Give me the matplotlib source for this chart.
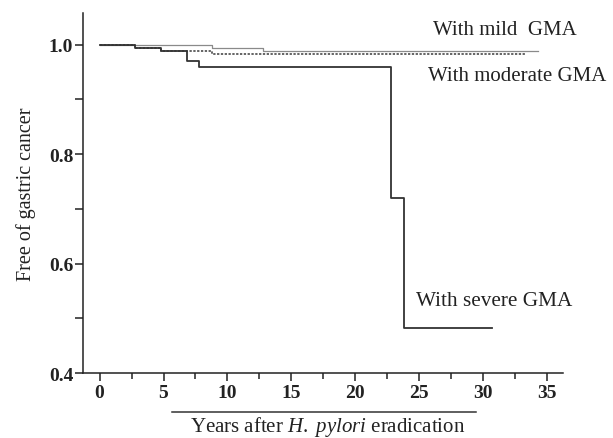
import matplotlib.pyplot as plt
from matplotlib.ticker import MultipleLocator

plt.rcParams['font.family'] = ['Liberation Serif', 'DejaVu Serif']
plt.rcParams['mathtext.fontset'] = 'custom'
plt.rcParams['mathtext.rm'] = 'Liberation Serif'
plt.rcParams['mathtext.it'] = 'Liberation Serif:italic'

# Kaplan-Meier steps
severe_t = [0, 2.8, 4.8, 6.8, 7.8, 22.8, 23.8, 30.7]
severe_s = [1.0, 0.994, 0.988, 0.970, 0.959, 0.720, 0.482, 0.482]

mild_t = [0, 8.8, 12.8, 34.3]
mild_s = [1.0, 0.994, 0.9885, 0.9885]

moderate_t = [0, 2.8, 4.8, 8.8, 33.3]
moderate_s = [1.0, 0.994, 0.988, 0.983, 0.983]

x_ticks = [0, 5, 10, 15, 20, 25, 30, 35]
y_ticks = [0.4, 0.6, 0.8, 1.0]

fig = plt.figure(figsize=(6.13, 4.39), dpi=100)
ax = fig.add_axes([0.1354, 0.148, 0.783, 0.82])

ax.plot(mild_t, mild_s, drawstyle='steps-post', color='#8a8a8a', lw=0.9)
ax.plot(moderate_t, moderate_s, drawstyle='steps-post', color='#3a3a3a', lw=1.1,
        dashes=(1.5, 1.0))
ax.plot(severe_t, severe_s, drawstyle='steps-post', color='#333333', lw=1.3)

ax.set_xlim(-1.3, 36.25)
ax.set_ylim(0.4, 1.0575)
ax.set_xticks(x_ticks)
ax.set_yticks(y_ticks)
ax.set_yticklabels(['%.1f' % v for v in y_ticks])
ax.xaxis.set_minor_locator(MultipleLocator(2.5))
ax.yaxis.set_minor_locator(MultipleLocator(0.1))

for s in ['top', 'right']:
    ax.spines[s].set_visible(False)
for s in ['left', 'bottom']:
    ax.spines[s].set_linewidth(1.1)
    ax.spines[s].set_color('#222222')

ax.tick_params(axis='x', which='major', direction='out', length=6, width=1.1, pad=2,
               labelsize=14, colors='#222222')
ax.tick_params(axis='x', which='minor', direction='out', length=4, width=1.1, colors='#222222')
ax.tick_params(axis='y', which='major', direction='out', length=6, width=1.1, pad=1,
               labelsize=14, colors='#222222')
ax.tick_params(axis='y', which='minor', direction='out', length=6, width=1.1, colors='#222222')
for lab in ax.get_xticklabels() + ax.get_yticklabels():
    lab.set_fontweight('bold')

ax.set_ylabel('Free of gastric cancer', fontsize=14.5, color='#222222', labelpad=9)

# underline and axis title below the tick labels
ax.plot([0.185, 0.819], [-0.108, -0.108], transform=ax.transAxes, color='#333333',
        lw=1.1, clip_on=False)
ax.text(0.51, -0.147, 'Years after $\\mathit{H.\\ pylori}$ eradication', transform=ax.transAxes,
        ha='center', va='center', fontsize=15, color='#222222')

ax.text(26.05, 1.028, 'With mild  GMA', ha='left', va='center', fontsize=15, color='#222222')
ax.text(25.7, 0.943, 'With moderate GMA', ha='left', va='center', fontsize=15, color='#222222')
ax.text(24.75, 0.532, 'With severe GMA', ha='left', va='center', fontsize=15.3, color='#222222')

fig.savefig('out.png', dpi=100)
